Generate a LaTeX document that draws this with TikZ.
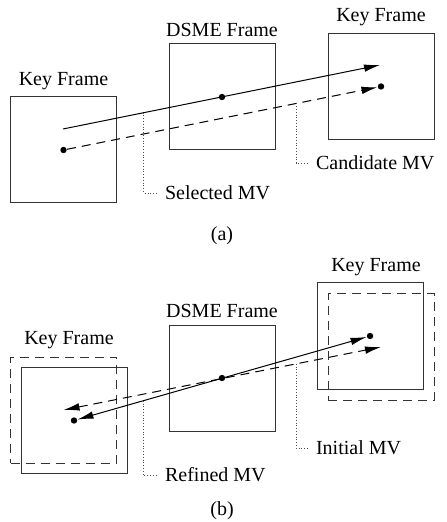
\documentclass[tikz,border=0pt]{standalone}
\usepackage{fontspec}
\setmainfont{Liberation Serif}
\usetikzlibrary{arrows.meta}

\begin{document}
\begin{tikzpicture}[x=0.5pt,y=-0.5pt]
\useasboundingbox (0,0) rectangle (446,522);
\tikzset{FrameStyle/.style ={draw=black!80, line width=0.5pt, minimum size=53pt, inner sep=0pt}}
\tikzset{DotStyle/.style ={circle, fill, inner sep=0pt, minimum size=3.2pt}}
\tikzset{DashStyle/.style ={dash pattern=on 4.5pt off 3pt}}
\tikzset{MVArrow/.style ={-{Latex[length=8pt,width=3.8pt]}, line width=0.5pt}}
\tikzset{MVArrows/.style ={{Latex[length=8pt,width=3.8pt]}-{Latex[length=8pt,width=3.8pt]}, line width=0.5pt}}
\tikzset{LeaderStyle/.style ={densely dotted, line width=0.4pt, black!70}}
% (a)
\node[FrameStyle,label=above:Key Frame] (keyA1) at (63.5,150) {};
\node[FrameStyle,label=above:DSME Frame] (dsmeA) at (222,97) {};
\node[FrameStyle,label=above:Key Frame] (keyA2) at (381,86.5) {};
\node[DotStyle] (dotA1) at (keyA1.center) {};
\node[DotStyle] (dotA0) at (dsmeA.center) {};
\node[DotStyle] (dotA2) at (keyA2.center) {};
\coordinate (startA) at (63,129);
\coordinate (endA) at (380,65);
\draw[MVArrow] (startA) -- (endA);
\draw[MVArrow,DashStyle] (dotA1) -- (dotA2);
\path (startA) -- (endA) coordinate[pos=0.255] (selA);
\path (dotA1.center) -- (dotA2.center) coordinate[pos=0.733] (candA);
\node[anchor=west] (selText) at (158,193) {Selected MV};
\node[anchor=west] (candText) at (309,163) {Candidate MV};
\draw[LeaderStyle] (selA) |- (selText.west);
\draw[LeaderStyle] (candA) |- (candText.west);
\node (capA) at (222,236) {(a)};
% (b)
\node[FrameStyle,DashStyle] (keyB1d) at (63.5,410) {};
\node[FrameStyle] (keyB1) at (74,420.5) {};
\node[FrameStyle,label=above:DSME Frame] (dsmeB) at (222,378) {};
\node[FrameStyle] (keyB2) at (370,336) {};
\node[FrameStyle,DashStyle] (keyB2d) at (381,347) {};
\node (labB1) at (69,340) {Key Frame};
\node (labB2) at (376,267) {Key Frame};
\node[DotStyle] (dotB1) at (keyB1.center) {};
\node[DotStyle] (dotB0) at (dsmeB.center) {};
\node[DotStyle] (dotB2) at (keyB2.center) {};
\draw[MVArrows] (dotB1) -- (dotB2);
\draw[MVArrows,DashStyle] (keyB1d.center) -- (keyB2d.center);
\path (dotB1.center) -- (dotB2.center) coordinate[pos=0.233] (refB);
\path (keyB1d.center) -- (keyB2d.center) coordinate[pos=0.732] (initB);
\node[anchor=west] (refText) at (158,475) {Refined MV};
\node[anchor=west] (initText) at (309,448) {Initial MV};
\draw[LeaderStyle] (refB) |- (refText.west);
\draw[LeaderStyle] (initB) |- (initText.west);
\node (capB) at (222,511) {(b)};
\end{tikzpicture}
\end{document}
